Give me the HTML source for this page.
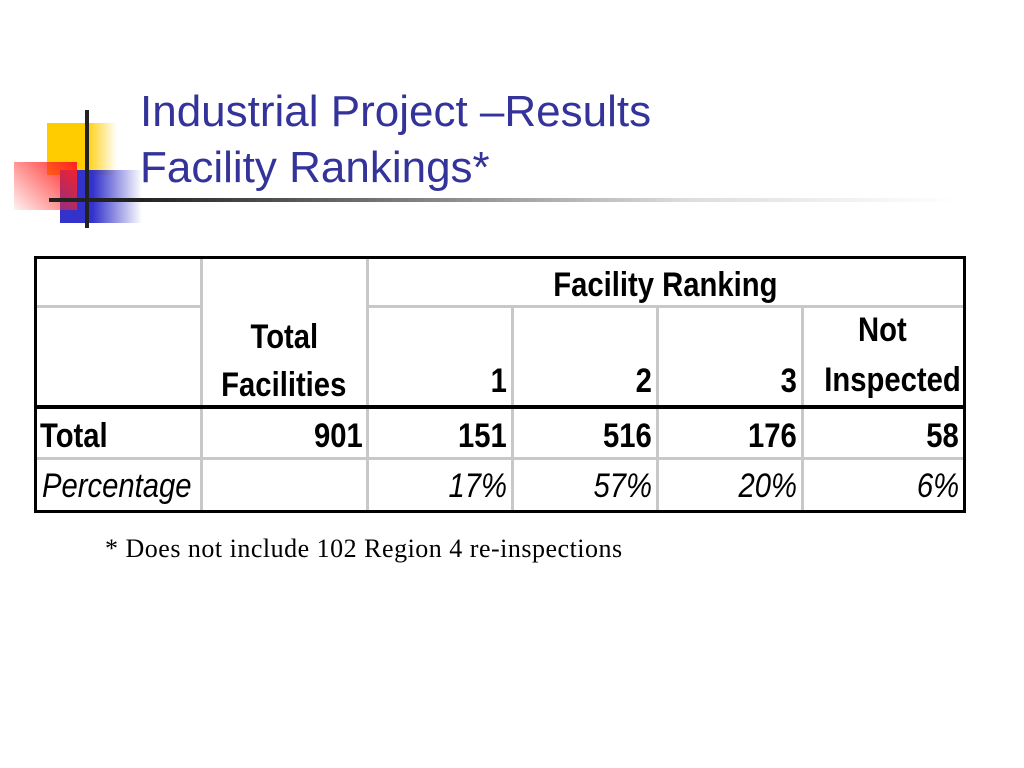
<!DOCTYPE html>
<html><head><meta charset="utf-8"><style>
body{margin:0;width:1024px;height:768px;background:#fff;position:relative;overflow:hidden;font-family:"Liberation Sans",sans-serif}
.a{position:absolute}
.t{position:absolute;font-family:"Liberation Sans",sans-serif;font-weight:bold;font-size:34px;color:#000;line-height:1;white-space:nowrap}
.t span{display:inline-block;transform:scaleX(.86)}
.r{text-align:right}.r span{transform-origin:right center}
.c{text-align:center}.c span{transform-origin:center}
.l span{transform-origin:left center}
.i{font-weight:normal;font-style:italic}
.g{position:absolute;background:#c8c8c8}
.k{position:absolute;background:#000}
</style></head><body>
<div class="a" style="left:47px;top:123px;width:70px;height:52px;background:linear-gradient(90deg,#ffcc00 55%,rgba(255,204,0,0))"></div>
<div class="a" style="left:60px;top:170px;width:82px;height:53px;background:linear-gradient(90deg,#3333cc 40%,rgba(51,51,204,0))"></div>
<div class="a" style="left:14px;top:162px;width:63px;height:48px;background:linear-gradient(225deg,#ff2020,rgba(255,120,120,0.1))"></div>
<div class="a" style="left:85px;top:110px;width:4px;height:118px;background:#222"></div>
<div class="a" style="left:49px;top:198px;width:911px;height:4px;background:linear-gradient(90deg,#222 10%,#ddd 70%,rgba(255,255,255,0))"></div>
<div class="a" style="left:140px;top:84px;font-size:44px;line-height:56px;color:#333399;white-space:nowrap">Industrial Project –Results<br>Facility Rankings*</div>

<div>
<div class="g" style="left:35px;top:305px;width:166px;height:3px"></div>
<div class="g" style="left:367px;top:305px;width:596px;height:3px"></div>
<div class="g" style="left:35px;top:457px;width:928px;height:3px"></div>
<div class="g" style="left:200px;top:257px;width:3px;height:253px"></div>
<div class="g" style="left:366px;top:257px;width:3px;height:253px"></div>
<div class="g" style="left:511px;top:306px;width:3px;height:204px"></div>
<div class="g" style="left:656px;top:306px;width:3px;height:204px"></div>
<div class="g" style="left:801px;top:306px;width:3px;height:204px"></div>
<div class="k" style="left:35px;top:405px;width:928px;height:4px"></div>
<div class="a" style="left:34px;top:256px;width:926px;height:251px;border:3px solid #000"></div>

<div class="t c" style="left:367px;width:596px;top:268px"><span>Facility Ranking</span></div>
<div class="t c" style="left:201px;width:166px;top:320px"><span>Total</span></div>
<div class="t c" style="left:201px;width:166px;top:368px"><span>Facilities</span></div>
<div class="t r" style="left:367px;width:140px;top:364px"><span>1</span></div>
<div class="t r" style="left:512px;width:140px;top:364px"><span>2</span></div>
<div class="t r" style="left:657px;width:140px;top:364px"><span>3</span></div>
<div class="t c" style="left:802px;width:161px;top:313px"><span>Not</span></div>
<div class="t r" style="left:802px;width:157px;top:363px"><span>Inspected</span></div>

<div class="t l" style="left:40px;top:419px"><span>Total</span></div>
<div class="t r" style="left:201px;width:162px;top:419px"><span>901</span></div>
<div class="t r" style="left:367px;width:140px;top:419px"><span>151</span></div>
<div class="t r" style="left:512px;width:140px;top:419px"><span>516</span></div>
<div class="t r" style="left:657px;width:140px;top:419px"><span>176</span></div>
<div class="t r" style="left:802px;width:157px;top:419px"><span>58</span></div>

<div class="t l i" style="left:42px;top:469px"><span>Percentage</span></div>
<div class="t r i" style="left:367px;width:140px;top:469px"><span>17%</span></div>
<div class="t r i" style="left:512px;width:140px;top:469px"><span>57%</span></div>
<div class="t r i" style="left:657px;width:140px;top:469px"><span>20%</span></div>
<div class="t r i" style="left:802px;width:157px;top:469px"><span>6%</span></div>
</div>

<div class="a" style="left:105px;top:534px;font-family:'Liberation Serif',serif;font-size:26px;letter-spacing:0.5px;color:#000;white-space:nowrap">* Does not include 102 Region 4 re-inspections</div>
</body></html>
